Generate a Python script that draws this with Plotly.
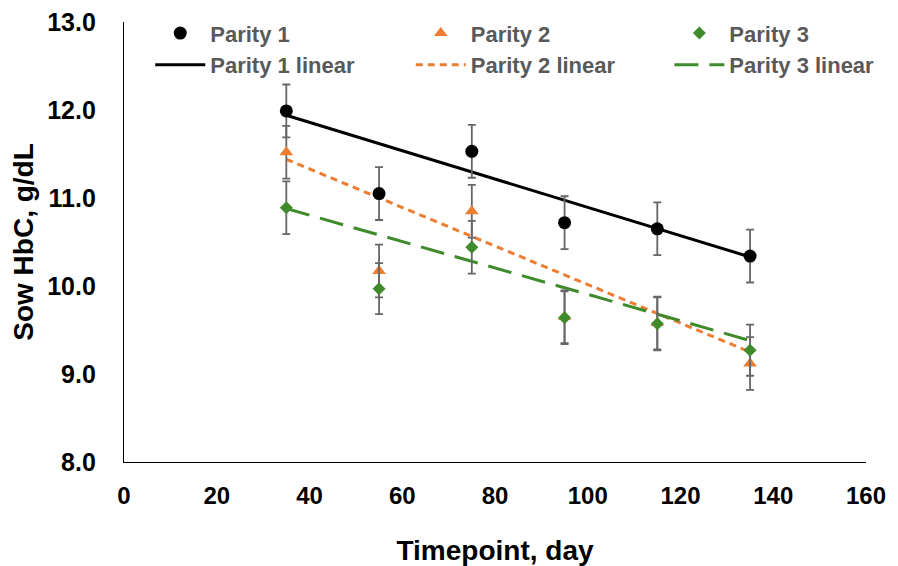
import plotly.graph_objects as go

# ---- data ----
timepoints = [35, 55, 75, 95, 115, 135]
parity1 = [11.99, 11.05, 11.53, 10.72, 10.65, 10.34]
parity2 = [11.52, 10.17, 10.85, 9.65, 9.58, 9.12]
parity3 = [10.89, 9.97, 10.44, 9.64, 9.57, 9.27]
parity1_err = [0.30, 0.30, 0.30, 0.30, 0.30, 0.30]
parity2_err = [0.30, 0.30, 0.30, 0.30, 0.30, 0.30]
parity3_err = [0.30, 0.29, 0.30, 0.30, 0.30, 0.29]
# linear trend lines (values at first and last timepoint)
trend_x = [35, 135]
parity1_linear = [11.94, 10.33]
parity2_linear = [11.44, 9.25]
parity3_linear = [10.88, 9.38]

x_ticks = [0, 20, 40, 60, 80, 100, 120, 140, 160]
y_ticks = [8.0, 9.0, 10.0, 11.0, 12.0, 13.0]

BLACK = "#000000"
ORANGE = "#ED7D31"
GREEN = "#3F8A2B"
ERR = "#666666"
FONT = "Liberation Sans, Arial, sans-serif"

fig = go.Figure()

def err(vals):
    return dict(type="data", array=vals, color=ERR, thickness=1.8, width=4)

# trend lines first so markers sit above
fig.add_trace(go.Scatter(x=trend_x, y=parity1_linear, mode="lines", name="Parity 1 linear",
                         line=dict(color=BLACK, width=3), legend="legend", legendrank=2))
fig.add_trace(go.Scatter(x=trend_x, y=parity2_linear, mode="lines", name="Parity 2 linear",
                         line=dict(color=ORANGE, width=3, dash="7px,5px"), legend="legend2", legendrank=2))
fig.add_trace(go.Scatter(x=trend_x, y=parity3_linear, mode="lines", name="Parity 3 linear",
                         line=dict(color=GREEN, width=3, dash="24px,11px"), legend="legend3", legendrank=2))

fig.add_trace(go.Scatter(x=timepoints, y=parity1, mode="markers", name="Parity 1",
                         marker=dict(symbol="circle", size=13, color=BLACK),
                         error_y=err(parity1_err), legend="legend", legendrank=1))
fig.add_trace(go.Scatter(x=timepoints, y=parity2, mode="markers", name="Parity 2",
                         marker=dict(symbol="triangle-up", size=12, color=ORANGE),
                         error_y=err(parity2_err), legend="legend2", legendrank=1))
fig.add_trace(go.Scatter(x=timepoints, y=parity3, mode="markers", name="Parity 3",
                         marker=dict(symbol="diamond", size=10, color=GREEN),
                         error_y=err(parity3_err), legend="legend3", legendrank=1))

legend_common = dict(
    xref="paper", yref="paper", xanchor="left", yanchor="top",
    y=1.022, orientation="v", bgcolor="rgba(0,0,0,0)",
    font=dict(family=FONT, size=22, color="#595959", weight="bold"),
    itemwidth=50, tracegroupgap=0, itemclick=False,
)

fig.update_layout(
    width=890, height=558,
    margin=dict(l=116, r=32, t=14, b=104, autoexpand=False),
    plot_bgcolor="white", paper_bgcolor="white",
    showlegend=True,
    legend=dict(x=0.0354, **legend_common),
    legend2=dict(x=0.3865, **legend_common),
    legend3=dict(x=0.735, **legend_common),
    xaxis=dict(
        range=[0, 160], tickvals=x_ticks, ticktext=[str(v) for v in x_ticks],
        showgrid=False, zeroline=False, showline=True, linecolor="#000000", linewidth=1.3,
        ticks="", ticklabelstandoff=12, ticklabeloverflow="allow",
        tickfont=dict(family=FONT, size=24, color="#000000", weight="bold"),
        title=dict(text="Timepoint, day", font=dict(family=FONT, size=28, color="#000000", weight="bold"),
                   standoff=32),
    ),
    yaxis=dict(
        range=[8, 13], tickvals=y_ticks, ticktext=[f"{v:.1f}" for v in y_ticks],
        showgrid=False, zeroline=False, showline=True, linecolor="#000000", linewidth=1.3,
        ticks="", ticklabelstandoff=22, ticklabeloverflow="allow",
        tickfont=dict(family=FONT, size=25, color="#000000", weight="bold"),
        title=dict(text="Sow HbC, g/dL", font=dict(family=FONT, size=28, color="#000000", weight="bold"),
                   standoff=12),
    ),
)

fig.write_html("out.html")
